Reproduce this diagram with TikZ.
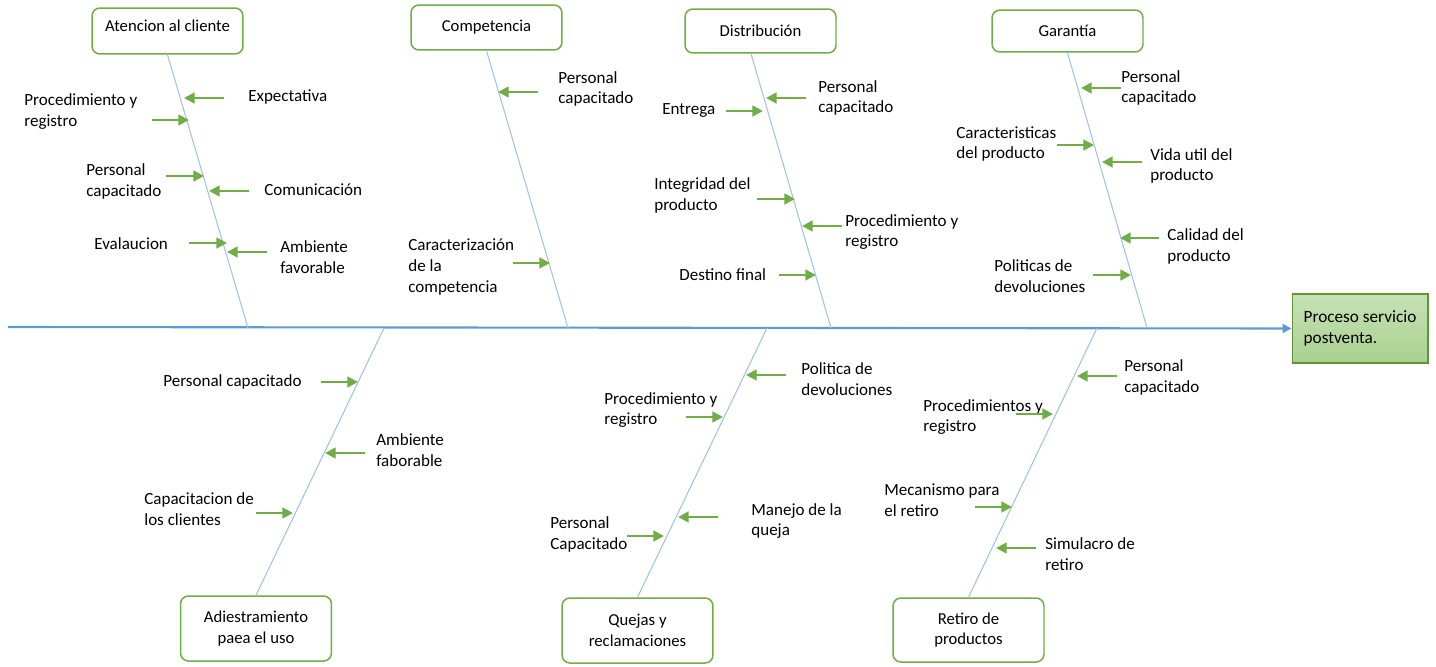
\documentclass[tikz,border=0pt]{standalone}
\usepackage{fontspec}
\setmainfont{Carlito}
\usepackage{xcolor}
\usetikzlibrary{positioning,calc,arrows.meta}
\definecolor{espina}{RGB}{91,155,213}
\definecolor{azulhueso}{RGB}{157,195,230}
\definecolor{verde}{RGB}{112,173,71}
\definecolor{verdeclaro}{RGB}{169,209,142}

\begin{document}
\begin{tikzpicture}[x=0.02cm,y=-0.02cm,>=stealth]
    \tikzstyle{categoria}=[draw=verde,line width=0.85pt,rounded corners=4.5pt,fill=white,minimum width=3.02cm,align=center,font=\fontsize{9.5}{11.9}\selectfont]
    \tikzstyle{causa}=[anchor=west,align=left,inner sep=0pt,font=\fontsize{9.7}{11.9}\selectfont]
    \tikzstyle{flecha}=[verde,line width=1.6pt,-{Triangle[length=6pt,width=6pt]}]
    \tikzstyle{hueso}=[azulhueso,line width=0.6pt]
    \useasboundingbox (0,0) rectangle (1436,666);

    % Effect box and spine
    \node (efecto)[draw=verde!85!black,line width=0.6pt,top color=verdeclaro!65!white,bottom color=verdeclaro,
        minimum width=2.72cm,minimum height=1.38cm,align=left,font=\fontsize{9.8}{11.9}\selectfont] at (1360,328.5) {Proceso servicio\\postventa.};
    \coordinate (cola) at (8,327);
    \draw[espina,line width=1.2pt,-{Triangle[length=5pt,width=5pt]}] (cola) -- (efecto.west);

    % Category boxes (top)
    \node (atencion)[categoria,minimum height=0.92cm] at (167.5,31) {\raisebox{5.6pt}{Atencion al cliente}};
    \node (competencia)[categoria,minimum height=0.9cm] at (486.5,27.5) {Competencia};
    \node (distribucion)[categoria,minimum height=0.88cm] at (760.5,31) {Distribución};
    \node (garantia)[categoria,minimum height=0.84cm] at (1067.5,31) {Garantía};

    % Category boxes (bottom)
    \node (adiestramiento)[categoria,minimum height=1.3cm] at (256,628.5) {Adiestramiento\\paea el uso};
    \node (quejas)[categoria,minimum height=1.3cm] at (637.5,630.5) {Quejas y\\reclamaciones};
    \node (retiro)[categoria,minimum height=1.28cm] at (968.5,630) {Retiro de\\productos};

    % Bones
    \coordinate (atencion_fin) at (248,328);
    \coordinate (competencia_fin) at (568,328);
    \coordinate (distribucion_fin) at (831,328);
    \coordinate (garantia_fin) at (1147,328);
    \coordinate (adiestramiento_fin) at (384,328);
    \coordinate (quejas_fin) at (767,328);
    \coordinate (retiro_fin) at (1097,328);
    \draw[hueso] (atencion.south) -- (atencion_fin);
    \draw[hueso] (competencia.south) -- (competencia_fin);
    \draw[hueso] ([xshift=-0.19cm]distribucion.south) -- (distribucion_fin);
    \draw[hueso] (garantia.south) -- (garantia_fin);
    \draw[hueso] (adiestramiento.north) -- (adiestramiento_fin);
    \draw[hueso] (quejas.north) -- (quejas_fin);
    \draw[hueso] (retiro.north) -- (retiro_fin);

    % --- Atencion al cliente
    \node (ac1)[causa] at (248,97) {Expectativa};
    \node (ac2)[causa] at (24,112) {Procedimiento y\\registro};
    \node (ac3)[causa] at (86,181) {Personal\\capacitado};
    \node (ac4)[causa] at (264,190) {Comunicación};
    \node (ac5)[causa] at (94,244) {Evalaucion};
    \node (ac6)[causa] at (280,257) {Ambiente\\favorable};
    \coordinate (ac1a) at (224,98);  \coordinate (ac1b) at (184,98);
    \coordinate (ac2a) at (152,120); \coordinate (ac2b) at (189,120);
    \coordinate (ac3a) at (166,176); \coordinate (ac3b) at (204,176);
    \coordinate (ac4a) at (249,191); \coordinate (ac4b) at (209,191);
    \coordinate (ac5a) at (189,243); \coordinate (ac5b) at (227,243);
    \coordinate (ac6a) at (267,252); \coordinate (ac6b) at (227,252);
    \draw[flecha] (ac1a) -- (ac1b);
    \draw[flecha] (ac2a) -- (ac2b);
    \draw[flecha] (ac3a) -- (ac3b);
    \draw[flecha] (ac4a) -- (ac4b);
    \draw[flecha] (ac5a) -- (ac5b);
    \draw[flecha] (ac6a) -- (ac6b);

    % --- Competencia
    \node (co1)[causa] at (558,89) {Personal\\capacitado};
    \node (co2)[causa] at (408,267) {Caracterización\\de la\\competencia};
    \coordinate (co1a) at (538,92);  \coordinate (co1b) at (498,92);
    \coordinate (co2a) at (513,263); \coordinate (co2b) at (550,263);
    \draw[flecha] (co1a) -- (co1b);
    \draw[flecha] (co2a) -- (co2b);

    % --- Distribucion
    \node (di1)[causa] at (662,110) {Entrega};
    \node (di2)[causa] at (818,98) {Personal\\capacitado};
    \node (di3)[causa] at (654,195) {Integridad del\\producto};
    \node (di4)[causa] at (845,232) {Procedimiento y\\registro};
    \node (di5)[causa] at (679,275) {Destino final};
    \coordinate (di1a) at (726,111); \coordinate (di1b) at (763,111);
    \coordinate (di2a) at (806,98);  \coordinate (di2b) at (766,98);
    \coordinate (di3a) at (757,199); \coordinate (di3b) at (795,199);
    \coordinate (di4a) at (842,226); \coordinate (di4b) at (802,226);
    \coordinate (di5a) at (779,275); \coordinate (di5b) at (816,275);
    \draw[flecha] (di1a) -- (di1b);
    \draw[flecha] (di2a) -- (di2b);
    \draw[flecha] (di3a) -- (di3b);
    \draw[flecha] (di4a) -- (di4b);
    \draw[flecha] (di5a) -- (di5b);

    % --- Garantia
    \node (ga1)[causa] at (1121,88) {Personal\\capacitado};
    \node (ga2)[causa] at (956,144) {Caracteristicas\\del producto};
    \node (ga3)[causa] at (1150,166) {Vida util del\\producto};
    \node (ga4)[causa] at (1167,246) {Calidad del\\producto};
    \node (ga5)[causa] at (994,276) {Politicas de\\devoluciones};
    \coordinate (ga1a) at (1121,88);  \coordinate (ga1b) at (1081,88);
    \coordinate (ga2a) at (1057,145); \coordinate (ga2b) at (1094,145);
    \coordinate (ga3a) at (1142,162); \coordinate (ga3b) at (1102,162);
    \coordinate (ga4a) at (1159,238); \coordinate (ga4b) at (1120,238);
    \coordinate (ga5a) at (1093,275); \coordinate (ga5b) at (1131,275);
    \draw[flecha] (ga1a) -- (ga1b);
    \draw[flecha] (ga2a) -- (ga2b);
    \draw[flecha] (ga3a) -- (ga3b);
    \draw[flecha] (ga4a) -- (ga4b);
    \draw[flecha] (ga5a) -- (ga5b);

    % --- Adiestramiento
    \node (ad1)[causa] at (163,382) {Personal capacitado};
    \node (ad2)[causa] at (376,450) {Ambiente\\faborable};
    \node (ad3)[causa] at (144,509) {Capacitacion de\\los clientes};
    \coordinate (ad1a) at (321,382); \coordinate (ad1b) at (358,382);
    \coordinate (ad2a) at (365,453); \coordinate (ad2b) at (325,453);
    \coordinate (ad3a) at (256,513); \coordinate (ad3b) at (293,513);
    \draw[flecha] (ad1a) -- (ad1b);
    \draw[flecha] (ad2a) -- (ad2b);
    \draw[flecha] (ad3a) -- (ad3b);

    % --- Quejas y reclamaciones
    \node (qu1)[causa] at (801,379) {Politica de\\devoluciones};
    \node (qu2)[causa] at (604,410) {Procedimiento y\\registro};
    \node (qu3)[causa] at (751,521) {Manejo de la\\queja};
    \node (qu4)[causa] at (550,534) {Personal\\Capacitado};
    \coordinate (qu1a) at (786,375); \coordinate (qu1b) at (746,375);
    \coordinate (qu2a) at (686,417); \coordinate (qu2b) at (723,417);
    \coordinate (qu3a) at (718,517); \coordinate (qu3b) at (678,517);
    \coordinate (qu4a) at (627,536); \coordinate (qu4b) at (664,536);
    \draw[flecha] (qu1a) -- (qu1b);
    \draw[flecha] (qu2a) -- (qu2b);
    \draw[flecha] (qu3a) -- (qu3b);
    \draw[flecha] (qu4a) -- (qu4b);

    % --- Retiro de productos
    \node (re1)[causa] at (1124,377) {Personal\\capacitado};
    \node (re2)[causa] at (923,417) {Procedimientos y\\registro};
    \node (re3)[causa] at (884,500) {Mecanismo para\\el retiro};
    \node (re4)[causa] at (1045,554) {Simulacro de\\retiro};
    \coordinate (re1a) at (1117,376); \coordinate (re1b) at (1077,376);
    \coordinate (re2a) at (1016,414); \coordinate (re2b) at (1053,414);
    \coordinate (re3a) at (975,507);  \coordinate (re3b) at (1012,507);
    \coordinate (re4a) at (1036,548); \coordinate (re4b) at (996,548);
    \draw[flecha] (re1a) -- (re1b);
    \draw[flecha] (re2a) -- (re2b);
    \draw[flecha] (re3a) -- (re3b);
    \draw[flecha] (re4a) -- (re4b);
\end{tikzpicture}
\end{document}
